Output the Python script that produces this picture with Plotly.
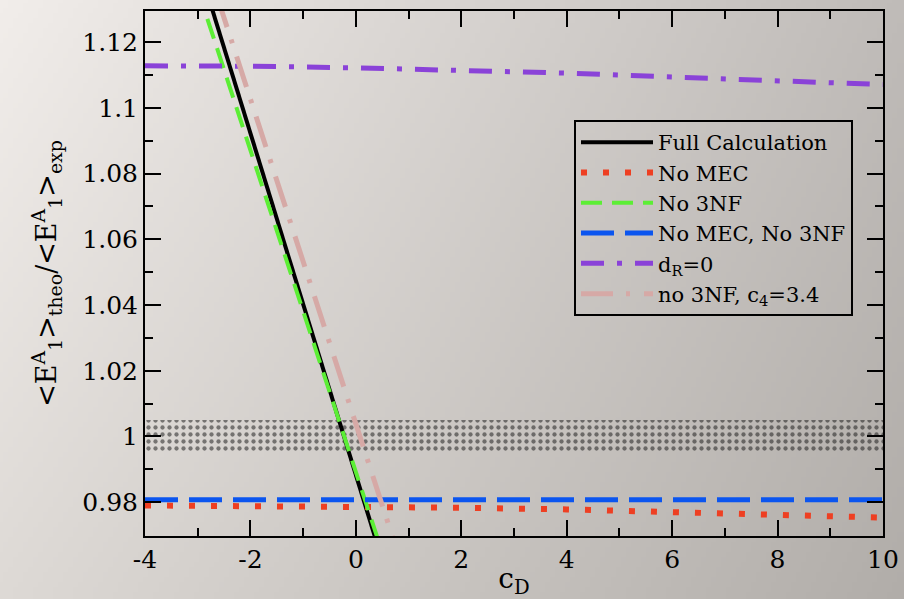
import base64
import struct
import zlib

import plotly.graph_objects as go

# ---- data -----------------------------------------------------------------
cd_full = [-3.0, -2.0, -1.0, 0.0, 0.5]
ratio_full = [1.1443, 1.0923, 1.0403, 0.9883, 0.9623]

cd_no_mec = [-4, -2, 0, 2, 4, 6, 8, 10]
ratio_no_mec = [0.9790, 0.9789, 0.9787, 0.9783, 0.9778, 0.9771, 0.9762, 0.9753]

cd_no_3nf = [-3.0, -2.0, -1.0, 0.0, 0.5]
ratio_no_3nf = [1.1361, 1.0871, 1.0381, 0.9892, 0.9647]

cd_no_mec_no_3nf = [-4, -2, 0, 2, 4, 6, 8, 10]
ratio_no_mec_no_3nf = [0.9807, 0.9807, 0.9807, 0.9807, 0.9807, 0.9807, 0.9807, 0.9807]

cd_dr0 = [-4, -2, 0, 2, 4, 6, 8, 10]
ratio_dr0 = [1.1128, 1.1127, 1.1122, 1.1115, 1.1106, 1.1094, 1.1081, 1.1071]

cd_c4 = [-3.0, -2.0, -1.0, 0.0, 1.0]
ratio_c4 = [1.1521, 1.1027, 1.0533, 1.0039, 0.9544]

# experimental value with its uncertainty band
cd_band = [-4, 10]
band_low = [0.995, 0.995]
band_high = [1.005, 1.005]

x_tickvals = [-4, -2, 0, 2, 4, 6, 8, 10]
x_ticktext = ["-4", "-2", "0", "2", "4", "6", "8", "10"]
y_tickvals = [0.98, 1.0, 1.02, 1.04, 1.06, 1.08, 1.1, 1.12]
y_ticktext = ["0.98", "1", "1.02", "1.04", "1.06", "1.08", "1.1", "1.12"]


# ---- background gradient as an inline PNG ------------------------------------
def gradient_png(w, h, tl, tr, bl, br):
    raw = bytearray()
    for j in range(h):
        v = j / (h - 1)
        raw.append(0)
        for i in range(w):
            u = i / (w - 1)
            for c in range(3):
                val = (tl[c] * (1 - u) * (1 - v) + tr[c] * u * (1 - v)
                       + bl[c] * (1 - u) * v + br[c] * u * v)
                raw.append(int(round(val)))

    def chunk(tag, data):
        return (struct.pack(">I", len(data)) + tag + data
                + struct.pack(">I", zlib.crc32(tag + data) & 0xFFFFFFFF))

    png = (b"\x89PNG\r\n\x1a\n"
           + chunk(b"IHDR", struct.pack(">IIBBBBB", w, h, 8, 2, 0, 0, 0))
           + chunk(b"IDAT", zlib.compress(bytes(raw), 9))
           + chunk(b"IEND", b""))
    return "data:image/png;base64," + base64.b64encode(png).decode()


bg_src = gradient_png(180, 120,
                      (241, 237, 234), (191, 187, 184),
                      (221, 217, 213), (177, 173, 169))

W, H = 904, 599
ML, MR, MT, MB = 145, 21, 11, 63
PW, PH = W - ML - MR, H - MT - MB

SERIF = "DejaVu Serif"

fig = go.Figure()

# uncertainty band (dot pattern)
fig.add_trace(go.Scatter(
    x=cd_band, y=band_low, mode="lines", line=dict(width=0, color="rgba(0,0,0,0)"),
    showlegend=False, hoverinfo="skip"))
fig.add_trace(go.Scatter(
    x=cd_band, y=band_high, mode="lines", line=dict(width=0, color="rgba(0,0,0,0)"),
    fill="tonexty", fillcolor="rgba(0,0,0,0)",
    fillpattern=dict(shape=".", size=7, solidity=0.3,
                     fgcolor="#111111", bgcolor="rgba(0,0,0,0)"),
    showlegend=False, hoverinfo="skip"))

fig.add_trace(go.Scatter(
    x=cd_full, y=ratio_full, mode="lines", name="Full Calculation",
    line=dict(color="black", width=4)))
fig.add_trace(go.Scatter(
    x=cd_no_mec, y=ratio_no_mec, mode="lines", name="No MEC",
    line=dict(color="#ee3f22", width=6, dash="6px,16px")))
fig.add_trace(go.Scatter(
    x=cd_no_3nf, y=ratio_no_3nf, mode="lines", name="No 3NF",
    line=dict(color="#5cee35", width=4, dash="21px,10px")))
fig.add_trace(go.Scatter(
    x=cd_no_mec_no_3nf, y=ratio_no_mec_no_3nf, mode="lines", name="No MEC, No 3NF",
    line=dict(color="#0b55ef", width=5, dash="33px,11px")))
fig.add_trace(go.Scatter(
    x=cd_dr0, y=ratio_dr0, mode="lines", name="d<sub>R</sub>=0",
    line=dict(color="#8a42d8", width=5, dash="23px,13px,5px,13px")))
fig.add_trace(go.Scatter(
    x=cd_c4, y=ratio_c4, mode="lines", name="no 3NF, c<sub>4</sub>=3.4",
    line=dict(color="#d6a9a6", width=5, dash="32px,13px,4px,14px")))

axis_common = dict(
    showline=True, linecolor="black", linewidth=2, mirror="allticks",
    ticks="inside", ticklen=16, tickwidth=2, tickcolor="black",
    showgrid=False, zeroline=False,
    tickfont=dict(family=SERIF, size=25, color="black"),
)

fig.update_xaxes(
    range=[-4, 10], tickmode="array", tickvals=x_tickvals, ticktext=x_ticktext,
    minor=dict(dtick=1, ticks="inside", ticklen=8, tickwidth=2, tickcolor="black"),
    title=dict(text="c<sub>D</sub>", font=dict(family=SERIF, size=28, color="black"),
               standoff=4),
    **axis_common)
fig.update_yaxes(
    range=[0.9697, 1.1295], tickmode="array", tickvals=y_tickvals, ticktext=y_ticktext,
    minor=dict(dtick=0.01, ticks="inside", ticklen=8, tickwidth=2, tickcolor="black"),
    title=dict(text="&lt;E<sup>A</sup><sub>1</sub>&gt;<sub>theo</sub>/"
                    "&lt;E<sup>A</sup><sub>1</sub>&gt;<sub>exp</sub>",
               font=dict(family=SERIF, size=27, color="black"), standoff=18),
    **axis_common)

fig.update_layout(
    width=W, height=H,
    margin=dict(l=ML, r=MR, t=MT, b=MB, autoexpand=False),
    paper_bgcolor="rgba(0,0,0,0)", plot_bgcolor="rgba(0,0,0,0)",
    font=dict(family=SERIF, color="black"),
    images=[dict(source=bg_src, xref="paper", yref="paper",
                 x=-ML / PW, y=1 + MT / PH, sizex=W / PW, sizey=H / PH,
                 xanchor="left", yanchor="top", sizing="stretch", layer="below")],
    legend=dict(x=(574 - ML) / PW, y=1 - (120 - MT) / PH, xanchor="left", yanchor="top",
                bgcolor="rgba(0,0,0,0)", bordercolor="black", borderwidth=2,
                font=dict(family=SERIF, size=21, color="black"),
                itemwidth=72, tracegroupgap=0, traceorder="normal"),
    showlegend=True,
)

fig.write_html("out.html")
